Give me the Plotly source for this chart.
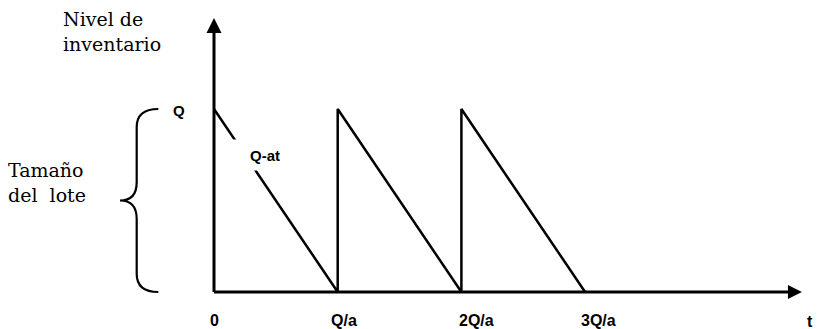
import plotly.graph_objects as go

# ---- data (time in units of Q/a, inventory in units of Q) ----
cycle_times = [0, 1, 1, 2, 2, 3]
inventory_levels = [1, 0, 1, 0, 1, 0]
tick_positions = [0, 1, 2, 3]
tick_labels = ["0", "Q/a", "2Q/a", "3Q/a"]
axis_end_t = 4.753
axis_end_inv = 1.497

# the page body has an 8px margin, so the figure is drawn 8px in from the corner
OFF = 8
W, H = 823 - OFF, 329 - OFF
# pixel helpers (reference page pixels -> paper coords)
def px(x):
    return (x - OFF) / W
def py(y):
    return 1 - (y - OFF) / H

X0, XS = 214 - OFF, 123.7   # pixel of t=0, pixels per Q/a
Y0, YS = 292 - OFF, 183     # pixel of inventory 0, pixels per Q

fig = go.Figure()

black = "#000000"

# axes lines
fig.add_trace(go.Scatter(x=[0, axis_end_t - 0.05], y=[0, 0], mode="lines",
                         line=dict(color=black, width=3), hoverinfo="skip"))
fig.add_trace(go.Scatter(x=[0, 0], y=[0, axis_end_inv - 0.05], mode="lines",
                         line=dict(color=black, width=3), hoverinfo="skip"))
# arrow heads
fig.add_trace(go.Scatter(x=[axis_end_t], y=[0], mode="markers",
                         marker=dict(symbol="arrow-right", size=14, color=black,
                                     line=dict(width=0)), hoverinfo="skip"))
fig.add_trace(go.Scatter(x=[0], y=[axis_end_inv], mode="markers",
                         marker=dict(symbol="arrow-up", size=15, color=black,
                                     line=dict(width=0)), hoverinfo="skip"))

# sawtooth inventory
fig.add_trace(go.Scatter(x=cycle_times, y=inventory_levels, mode="lines",
                         line=dict(color=black, width=2.5), hoverinfo="skip"))

# brace (data coords: spans inventory 0..Q)
bx_end, bx_stem, bx_tip = -0.45, -0.625, -0.76
brace = (f"M {bx_end},1 Q {bx_stem},1 {bx_stem},0.9 L {bx_stem},0.6 "
         f"Q {bx_stem},0.5 {bx_tip},0.5 Q {bx_stem},0.5 {bx_stem},0.4 "
         f"L {bx_stem},0.1 Q {bx_stem},0 {bx_end},0")
fig.add_shape(type="path", path=brace, xref="x", yref="y",
              line=dict(color=black, width=2.2))

serif = dict(family="DejaVu Serif", size=19, color=black)
sans = dict(family="Liberation Sans", size=15, color=black)

annotations = [
    dict(text="Nivel de<br>inventario", x=px(61), y=py(31.5), xanchor="left",
         yanchor="middle", align="left", font=serif),
    dict(text="Tamaño<br>del\u00a0 lote", x=px(6), y=py(182.5), xanchor="left",
         yanchor="middle", align="left", font=serif),
    dict(text="<b>Q</b>", x=px(179), y=py(110), xanchor="center",
         yanchor="middle", font=sans),
    dict(text="<b>Q-at</b>", x=px(232), y=py(155), xanchor="left",
         yanchor="middle", align="right", width=46, height=28,
         bgcolor="white", font=sans),
    dict(text="<b>t</b>", x=px(815), y=py(321), xanchor="right",
         yanchor="middle", font=dict(family="Liberation Sans", size=16,
                                     color=black)),
]
shifts = [0, 6, 15, 13]
for tv, tl, sh in zip(tick_positions, tick_labels, shifts):
    annotations.append(dict(text=f"<b>{tl}</b>", x=tv, y=-28 / YS, xref="x",
                            yref="y", xanchor="center", yanchor="middle",
                            xshift=sh, font=dict(family="Liberation Sans",
                                                 size=16, color=black),
                            showarrow=False))
for a in annotations:
    a.setdefault("xref", "paper")
    a.setdefault("yref", "paper")
    a["showarrow"] = False

fig.update_layout(
    width=W, height=H,
    margin=dict(l=0, r=0, t=0, b=0),
    paper_bgcolor="white", plot_bgcolor="white",
    showlegend=False,
    xaxis=dict(range=[-X0 / XS, (W - X0) / XS], visible=False, fixedrange=True),
    yaxis=dict(range=[-(H - Y0) / YS, Y0 / YS], visible=False, fixedrange=True),
    annotations=annotations,
)

fig.write_html("out.html")
